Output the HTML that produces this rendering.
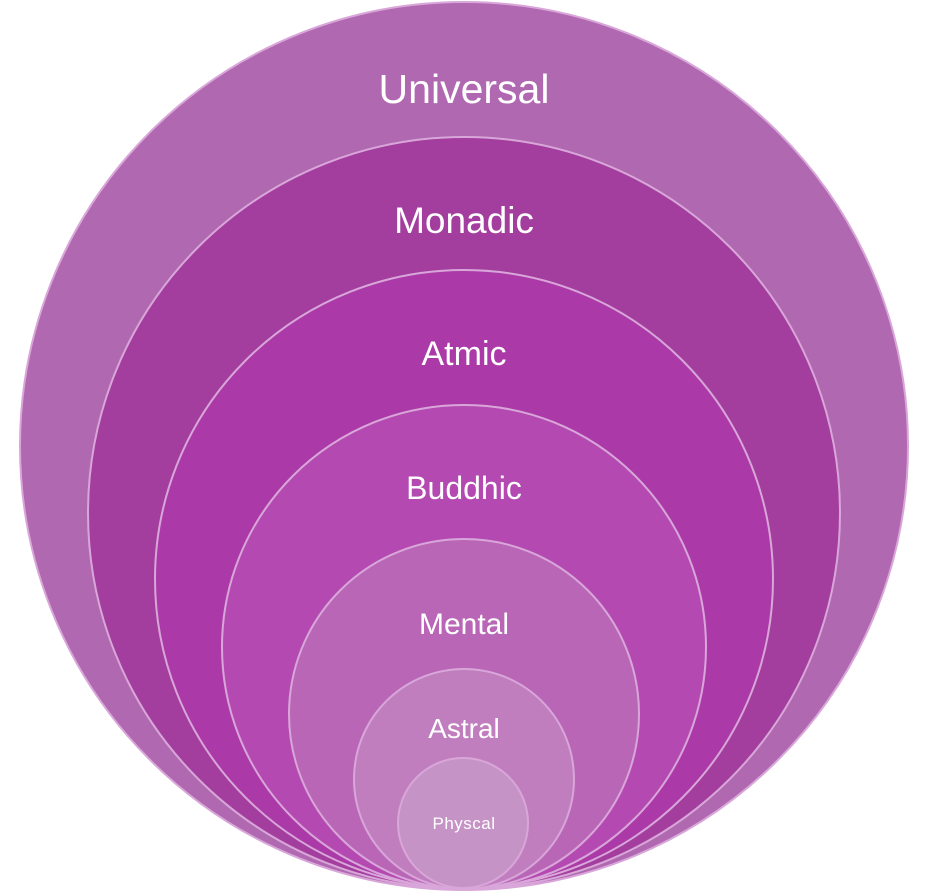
<!DOCTYPE html>
<html><head><meta charset="utf-8"><style>
html,body{margin:0;padding:0;background:#fff;width:929px;height:893px;overflow:hidden}
text{font-family:"Liberation Sans","DejaVu Sans",sans-serif;fill:#fff;text-anchor:middle}
</style></head><body>
<svg width="929" height="893" viewBox="0 0 929 893">
<g stroke="#d9a6d9" stroke-width="2">
<circle cx="464" cy="446" r="444" fill="#b068b0"/>
<circle cx="464" cy="513" r="376" fill="#a33e9e"/>
<circle cx="464" cy="579" r="309" fill="#ab3aa8"/>
<circle cx="464" cy="647" r="242" fill="#b44ab1"/>
<circle cx="464" cy="714" r="175" fill="#b966b7"/>
<circle cx="464" cy="779" r="110" fill="#c07ebf"/>
<circle cx="463" cy="823" r="65" fill="#c693c6"/>
</g>
<text x="464" y="103" font-size="41">Universal</text>
<text x="464" y="233" font-size="37">Monadic</text>
<text x="464" y="365" font-size="34">Atmic</text>
<text x="464" y="499" font-size="32">Buddhic</text>
<text x="464" y="634" font-size="30">Mental</text>
<text x="464" y="738" font-size="28">Astral</text>
<text x="464" y="829" font-size="17" letter-spacing="0.5">Physcal</text>
</svg>
</body></html>
